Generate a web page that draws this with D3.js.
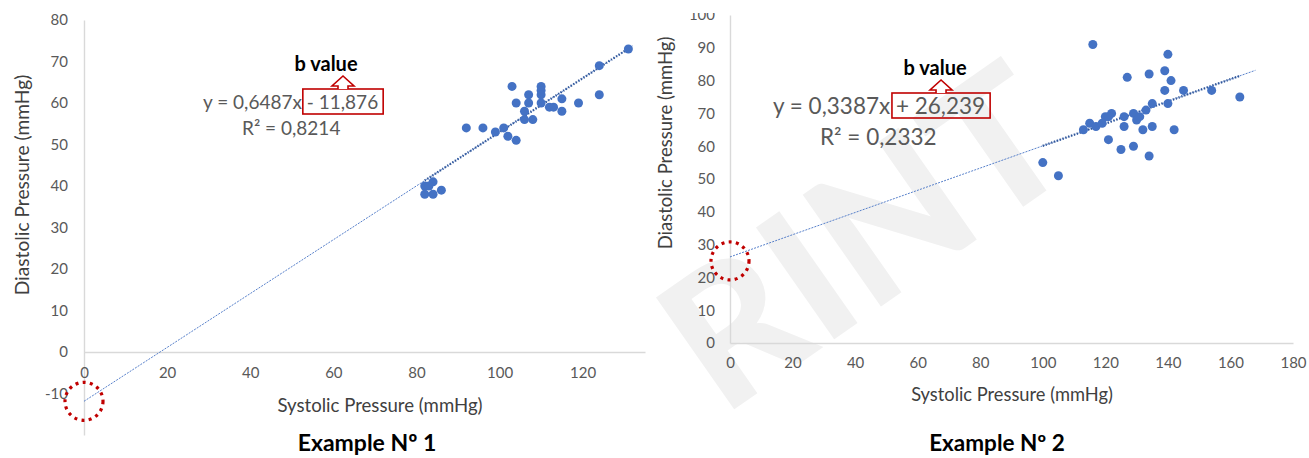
<!DOCTYPE html>
<html><head><meta charset="utf-8">
<script src="https://cdn.jsdelivr.net/npm/d3@7"></script>
<style>body{margin:0;background:#fff;} svg{display:block;font-family:Lato,"Open Sans",sans-serif;}</style>
</head><body><svg id="c" width="1309" height="458"></svg>
<script>
// ---------- DATA ----------
const ex1Systolic  = [131,124,124,103,110,110,110,110,107,107,104,115,119,112,113,115,106,106,108,92,96,99,101,102,104,82,84,82,84,86,83];
const ex1Diastolic = [ 73, 69, 62, 64, 64, 63, 62, 60, 62, 60, 60, 61, 60, 59, 59, 58, 58, 56, 56,54,54,53, 54, 52, 51,40,41,38,38,39,40];
const ex2Systolic  = [116,140,127,134,139,141,139,145,154,163,140,135,133,122,120,129,130,126,115,113,117,119,126,132,135,142,121,125,129,134,100,105,121,131];
const ex2Diastolic = [ 91, 88, 81, 82, 83, 80, 77, 77, 77, 75, 73, 73, 71, 70, 69, 70, 68, 69, 67, 65, 66, 67, 66, 65, 66, 65, 62, 59, 60, 57, 55, 51, 69, 69];
const ex1XTicks = [0,20,40,60,80,100,120];
const ex1YTicks = [-10,0,10,20,30,40,50,60,70,80];
const ex2XTicks = [0,20,40,60,80,100,120,140,160,180];
const ex2YTicks = [0,10,20,30,40,50,60,70,80,90,100];
const ex1Slope = 0.6487, ex1Intercept = -11.876;
const ex2Slope = 0.3387, ex2Intercept = 26.239;
const ex1EqMain = "y = 0,6487x ", ex1EqB = "- 11,876", ex1R2 = "R² = 0,8214";
const ex2EqMain = "y = 0,3387x ", ex2EqB = "+ 26,239", ex2R2 = "R² = 0,2332";
const bLabel = "b value";
const xTitle = "Systolic Pressure (mmHg)";
const yTitle = "Diastolic Pressure (mmHg)";
const ex1Title = "Example Nº 1", ex2Title = "Example Nº 2";
const watermark = "RINT";

const svg = d3.select("#c");
const BLUE = "#4472C4", RED = "#c00000", GRID = "#d9d9d9", TICK = "#595959";

// faint watermark
svg.append("text").attr("x", 860).attr("y", 232)
  .attr("transform", "rotate(-35,860,232)")
  .attr("text-anchor", "middle").attr("dominant-baseline", "central")
  .attr("font-size", 188).attr("font-weight", 900)
  .attr("fill", "#f1f1f1").text(watermark);

function drawChart(o) {
  const g = svg.append("g");
  const x = d3.scaleLinear().domain(o.xDomain).range(o.xRange);
  const y = d3.scaleLinear().domain(o.yDomain).range(o.yRange);
  const fmt = d => String(d);

  const ya = g.append("g").attr("transform", `translate(${x(0)},0)`)
    .call(d3.axisLeft(y).tickValues(o.yTicks).tickSize(0).tickPadding(o.yPad).tickFormat(fmt));
  if (o.clipTop) ya.attr("clip-path", "url(#clipTop)");
  const xa = g.append("g").attr("transform", `translate(0,${y(0)})`)
    .call(d3.axisBottom(x).tickValues(o.xTicks).tickSize(0).tickPadding(o.xPad).tickFormat(fmt));
  [ya, xa].forEach(a => {
    a.select(".domain").attr("stroke", GRID).attr("stroke-width", 1.4);
    a.selectAll("text").attr("fill", TICK).attr("font-size", o.tickFs).attr("font-family", "Lato");
  });

  // trend lines
  const line = d3.line().x(d => x(d)).y(d => y(o.slope * d + o.intercept));
  g.append("path").datum([0, o.fitEnd]).attr("d", line)
    .attr("fill", "none").attr("stroke", BLUE).attr("stroke-width", 0.9).attr("stroke-dasharray", "2,1.2");
  g.append("path").datum(d3.extent(o.xs)).attr("d", line)
    .attr("fill", "none").attr("stroke", "#2f5597").attr("stroke-width", 2.4).attr("stroke-dasharray", "1.2,1.8");

  // points
  g.append("g").selectAll("circle").data(o.xs.map((v, i) => [v, o.ys[i]])).join("circle")
    .attr("cx", d => x(d[0])).attr("cy", d => y(d[1])).attr("r", o.r).attr("fill", BLUE);

  // titles
  g.append("text").attr("x", o.xTitlePos[0]).attr("y", o.xTitlePos[1]).attr("dy", "0.35em")
    .attr("text-anchor", "middle").attr("font-size", o.titleFs).attr("fill", "#404040").text(xTitle);
  g.append("text").attr("transform", `translate(${o.yTitlePos[0]},${o.yTitlePos[1]}) rotate(-90)`).attr("dy", "0.35em")
    .attr("text-anchor", "middle").attr("font-size", o.yTitleFs).attr("fill", "#404040").text(yTitle);
  g.append("text").attr("x", o.exPos[0]).attr("y", o.exPos[1]).attr("dy", "0.35em")
    .attr("text-anchor", "middle").attr("font-size", o.exFs).attr("font-weight", 700).attr("fill", "#000").text(o.exTitle);

  // equation
  const eq = g.append("text").attr("x", o.eqPos[0]).attr("y", o.eqPos[1]).attr("dy", "0.35em")
    .attr("font-size", o.eqFs).attr("fill", TICK);
  eq.append("tspan").text(o.eqMain);
  eq.append("tspan").text(o.eqB);
  const node = eq.node();
  const n1 = o.eqMain.length;
  const pre = node.getSubStringLength(0, n1);
  const bw = node.getSubStringLength(n1, o.eqB.length);
  const bx = o.eqPos[0] + pre - 4, by = o.eqPos[1] - 13, bwid = bw + 9, bh = 25;
  g.append("rect").attr("x", bx).attr("y", by).attr("width", bwid).attr("height", bh)
    .attr("fill", "none").attr("stroke", RED).attr("stroke-width", 1.6);
  const cx = bx + bwid / 2;
  g.append("path").attr("d", `M${cx-5},${by} L${cx-5},${by-3} L${cx-11},${by-3} L${cx},${by-13} L${cx+11},${by-3} L${cx+5},${by-3} L${cx+5},${by}`)
    .attr("fill", "#fff").attr("stroke", RED).attr("stroke-width", 1.6);
  g.append("text").attr("x", cx - o.bOff).attr("y", by - 25).attr("dy", "0.35em").attr("text-anchor", "middle")
    .attr("font-size", 20).attr("font-weight", 700).attr("fill", "#000").text(bLabel);
  g.append("text").attr("x", o.r2Pos[0]).attr("y", o.r2Pos[1]).attr("dy", "0.35em")
    .attr("font-size", o.eqFs).attr("fill", TICK).text(o.r2);

  // dotted circle at intercept
  g.append("circle").attr("cx", x(0)).attr("cy", y(o.intercept) + o.circDy).attr("r", 19)
    .attr("fill", "none").attr("stroke", RED).attr("stroke-width", 3.2).attr("stroke-dasharray", "3,4.3");
}

svg.append("defs").append("clipPath").attr("id", "clipTop")
  .append("rect").attr("x", -200).attr("y", 13).attr("width", 400).attr("height", 500);

drawChart({
  xs: ex1Systolic, ys: ex1Diastolic, xDomain: [0, 135], xRange: [84, 645], yDomain: [-20, 80], yRange: [435, 20],
  xTicks: ex1XTicks, yTicks: ex1YTicks, yPad: 16, xPad: 15, tickFs: 15, titleFs: 18.6, yTitleFs: 19.2, r: 4.5,
  slope: ex1Slope, intercept: ex1Intercept, fitEnd: 132,
  xTitlePos: [380, 405], yTitlePos: [22, 185], exPos: [367, 443], exTitle: ex1Title, exFs: 23,
  eqMain: ex1EqMain, eqB: ex1EqB, eqPos: [203, 102], eqFs: 19, bOff: 17, r2: ex1R2, r2Pos: [242, 128], circDy: 0
});
drawChart({
  xs: ex2Systolic, ys: ex2Diastolic, xDomain: [0, 180], xRange: [730, 1293], yDomain: [0, 100], yRange: [343, 15],
  xTicks: ex2XTicks, yTicks: ex2YTicks, yPad: 15, xPad: 14, tickFs: 15, titleFs: 18.3, yTitleFs: 18.5, r: 4.5,
  slope: ex2Slope, intercept: ex2Intercept, fitEnd: 168,
  xTitlePos: [1012, 395], yTitlePos: [666, 143], exPos: [997, 443], exTitle: ex2Title, exFs: 22.5,
  eqMain: ex2EqMain, eqB: ex2EqB, eqPos: [773, 106], eqFs: 22.5, bOff: 6, r2: ex2R2, r2Pos: [820, 137], circDy: 4, clipTop: true
});
</script></body></html>
